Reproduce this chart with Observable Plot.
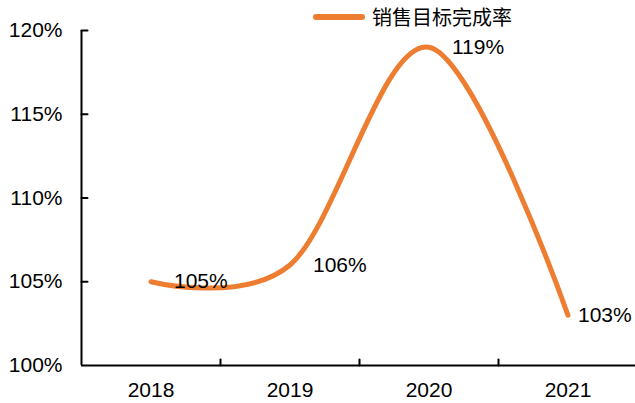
<!DOCTYPE html>
<html>
<head>
<meta charset="utf-8">
<script src="https://cdn.jsdelivr.net/npm/d3@7"></script>
<script src="https://cdn.jsdelivr.net/npm/@observablehq/plot@0.6"></script>
<style>
  html, body { margin: 0; padding: 0; background: #fff; }
  #wrap { position: relative; width: 635px; height: 403px; font-family: "Liberation Sans", Arial, "Noto Sans CJK SC", sans-serif; }
  #legend { position: absolute; top: 0; left: 313px; height: 34px; display: flex; align-items: center; gap: 7px; z-index: 2; }
  #legend .swatch { width: 52px; height: 6px; border-radius: 3px; }
  #legend .label { font-size: 20px; line-height: 1; color: #000; font-family: "Noto Sans CJK SC", "Liberation Sans", sans-serif; }
</style>
</head>
<body>
<div id="wrap">
  <div id="legend"></div>
</div>
<script>
const seriesName = "销售目标完成率";
const years = [2018, 2019, 2020, 2021];
const values = [105, 106, 119, 103];
const yTicks = [100, 105, 110, 115, 120];
const color = "#ED7D31";

const data = years.map((year, i) => ({year, value: values[i]}));
const boundaries = years.slice(0, -1).map(y => y + 0.5);

const legend = document.getElementById("legend");
legend.innerHTML = `<span class="swatch" style="background:${color}"></span><span class="label">${seriesName}</span>`;

const tickRight = {draw(ctx, l) { ctx.moveTo(0, 0); ctx.lineTo(l, 0); }};
const tickUp = {draw(ctx, l) { ctx.moveTo(0, 0); ctx.lineTo(0, -l); }};

const chart = Plot.plot({
  width: 635,
  height: 403,
  marginLeft: 81,
  marginRight: 0,
  marginTop: 30,
  marginBottom: 38,
  style: {fontFamily: "'Liberation Sans', Arial, sans-serif", fontSize: "21px", color: "#000", background: "transparent"},
  x: {type: "linear", domain: [years[0] - 0.5, years[years.length - 1] + 0.5], range: [81, 637]},
  y: {domain: [yTicks[0], yTicks[yTicks.length - 1]]},
  marks: [
    Plot.axisY(yTicks, {label: null, tickSize: 0, tickPadding: 19, tickFormat: d => d + "%", fontSize: 21, fill: "#000"}),
    Plot.axisX(years, {label: null, tickSize: 0, tickPadding: 17, tickFormat: d => String(d), fontSize: 21, fill: "#000"}),
    Plot.ruleX([years[0] - 0.5], {y1: yTicks[0], y2: yTicks[yTicks.length - 1], stroke: "#000", strokeWidth: 2}),
    Plot.ruleY([yTicks[0]], {stroke: "#000", strokeWidth: 2}),
    Plot.vector(yTicks.slice(1), {x: years[0] - 0.5, y: d => d, length: 6, anchor: "start", shape: tickRight, stroke: "#000", strokeWidth: 2}),
    Plot.vector(boundaries, {x: d => d, y: yTicks[0], length: 6, anchor: "start", shape: tickUp, stroke: "#000", strokeWidth: 2}),
    Plot.line(data, {x: "year", y: "value", curve: "cardinal", stroke: color, strokeWidth: 5, strokeLinecap: "round"}),
    Plot.text(data.slice(0, -1), {x: "year", y: "value", text: d => d.value + "%", textAnchor: "start", dx: 23, fontSize: 21, fill: "#000"}),
    Plot.text(data.slice(-1), {x: "year", y: "value", text: d => d.value + "%", textAnchor: "start", dx: 10, fontSize: 21, fill: "#000"})
  ]
});
document.getElementById("wrap").appendChild(chart);
</script>
</body>
</html>
